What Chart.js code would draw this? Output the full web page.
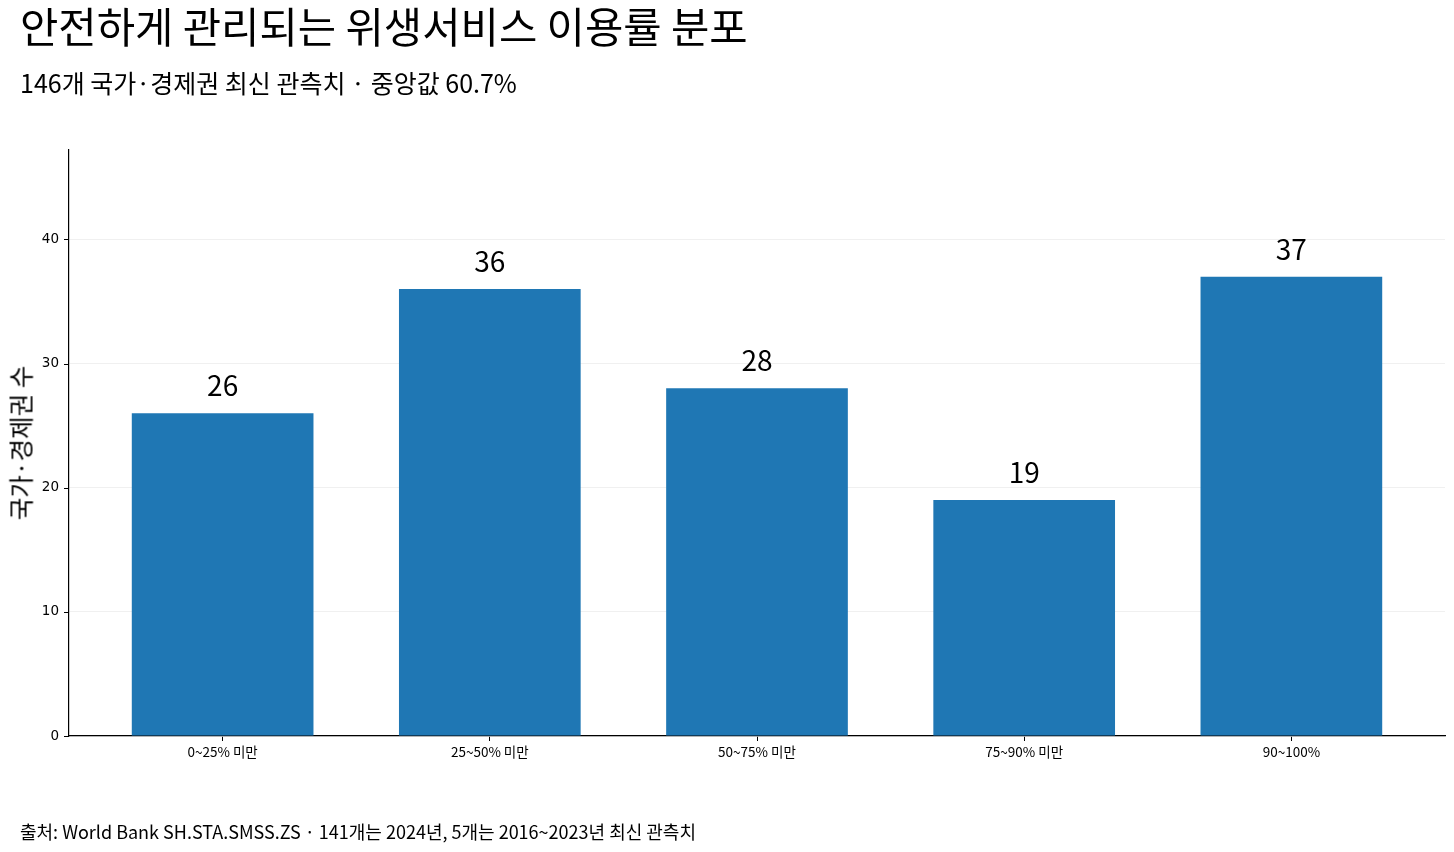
<!DOCTYPE html>
<html lang="ja">
<head>
<meta charset="utf-8">
<title>안전하게 관리되는 위생서비스 이용률 분포</title>
<script src="https://cdn.jsdelivr.net/npm/chart.js"></script>
<style>
  html, body { margin: 0; padding: 0; background: #fff; }
  body { width: 1454px; height: 852px; position: relative; overflow: hidden;
         font-family: "Noto Sans CJK JP", "Noto Sans CJK KR", sans-serif; color: #000; }
  #chart { position: absolute; left: 0; top: 0; }
  .title { position: absolute; left: 20px; top: -5px; font-size: 41.7px; white-space: nowrap; }
  .subtitle { position: absolute; left: 20px; top: 64px; font-size: 25px; white-space: nowrap; }
  .ylabel { position: absolute; left: 20px; top: 443px; font-size: 24.5px; white-space: nowrap;
            transform: translate(-50%, -50%) rotate(-90deg); }
  .source { position: absolute; left: 20px; top: 818px; font-size: 18px; white-space: nowrap; }
</style>
</head>
<body>
<canvas id="chart" width="1454" height="852"></canvas>
<div class="title">안전하게 관리되는 위생서비스 이용률 분포</div>
<div class="subtitle">146개 국가·경제권 최신 관측치 · 중앙값 60.7%</div>
<div class="ylabel">국가·경제권 수</div>
<div class="source">출처: World Bank SH.STA.SMSS.ZS · 141개는 2024년, 5개는 2016~2023년 최신 관측치</div>

<script>
// 구간별 국가 수
const categories = ['0~25% 미만', '25~50% 미만', '50~75% 미만', '75~90% 미만', '90~100%'];
const counts = [26, 36, 28, 19, 37];
const yTicks = [0, 10, 20, 30, 40];

const barColor = '#1f77b4';
const cjkFont = '"Noto Sans CJK JP", "Noto Sans CJK KR", sans-serif';

// 막대 위에 값 표시
const valueLabels = {
  id: 'valueLabels',
  afterDatasetsDraw(chart) {
    const ctx = chart.ctx;
    const meta = chart.getDatasetMeta(0);
    ctx.save();
    ctx.font = '28px ' + cjkFont;
    ctx.fillStyle = '#000';
    ctx.textAlign = 'center';
    ctx.textBaseline = 'alphabetic';
    meta.data.forEach((bar, i) => {
      ctx.fillText(String(counts[i]), bar.x, bar.y - 17);
    });
    ctx.restore();
  }
};

// y축 눈금 표시 (바깥쪽)
const yTickMarks = {
  id: 'yTickMarks',
  afterDraw(chart) {
    const y = chart.scales.y;
    const c = chart.ctx;
    c.save();
    c.strokeStyle = '#000';
    c.lineWidth = 1;
    yTicks.forEach(v => {
      const py = Math.round(y.getPixelForValue(v)) + 0.5;
      c.beginPath();
      c.moveTo(y.right - 5, py);
      c.lineTo(y.right, py);
      c.stroke();
    });
    c.restore();
  }
};

new Chart(document.getElementById('chart'), {
  type: 'bar',
  data: {
    datasets: [{
      data: counts.map((v, i) => ({ x: i, y: v })),
      backgroundColor: barColor,
      borderWidth: 0,
      barPercentage: 0.68,
      categoryPercentage: 1
    }]
  },
  options: {
    responsive: false,
    animation: false,
    devicePixelRatio: 1,
    layout: { padding: { top: 150, right: 9, bottom: 76, left: 0 } },
    plugins: {
      legend: { display: false },
      tooltip: { enabled: false }
    },
    scales: {
      x: {
        type: 'linear',
        min: -0.575,
        max: 4.575,
        offset: false,
        afterBuildTicks: scale => { scale.ticks = categories.map((c, i) => ({ value: i })); },
        afterFit: scale => { scale.height = 40; },
        grid: { display: true, offset: false, drawOnChartArea: false, drawTicks: true, tickLength: 5, color: '#000' },
        border: { display: true, color: '#000', width: 1.2 },
        ticks: {
          autoSkip: false,
          maxRotation: 0,
          padding: 3,
          color: '#000',
          font: { family: cjkFont, size: 13.5 },
          callback: v => categories[v]
        }
      },
      y: {
        min: 0,
        max: 47.2,
        afterBuildTicks: scale => { scale.ticks = yTicks.map(v => ({ value: v })); },
        afterFit: scale => { scale.width = 69; },
        grid: { display: true, color: '#ececec', lineWidth: 0.8, drawTicks: false },
        border: { display: true, color: '#000', width: 1.2 },
        ticks: {
          padding: 10,
          color: '#000',
          font: { family: '"DejaVu Sans", sans-serif', size: 13.5 }
        }
      }
    }
  },
  plugins: [valueLabels, yTickMarks]
});
</script>
</body>
</html>
